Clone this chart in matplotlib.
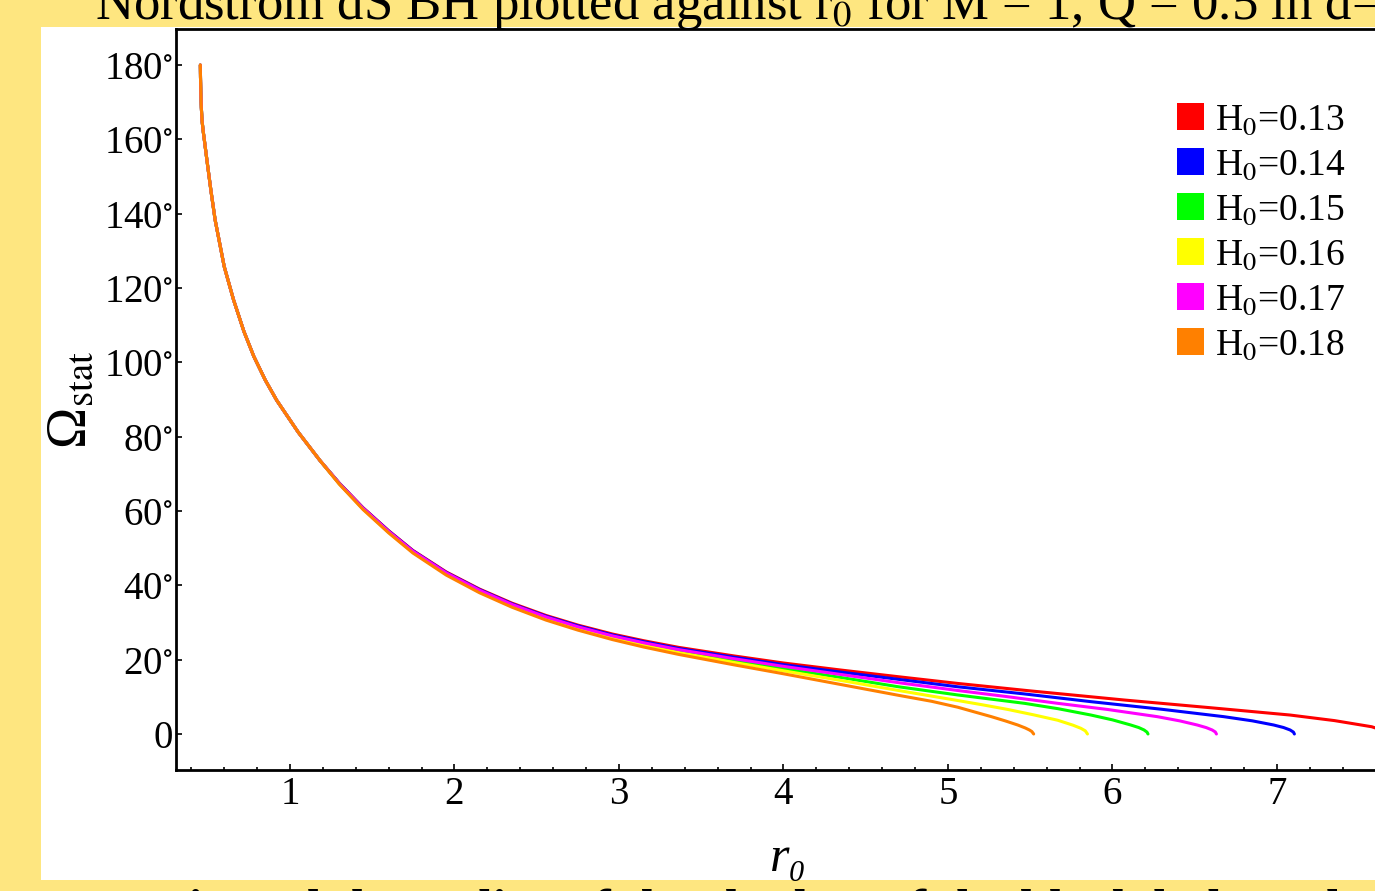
import matplotlib
matplotlib.use("Agg")
import matplotlib.pyplot as plt
from matplotlib.patches import Patch, Rectangle

plt.rcParams['font.family'] = ['Liberation Serif', 'DejaVu Serif']
plt.rcParams['mathtext.fontset'] = 'stix'

# shared steep part, all curves sit on top of each other here
r_head = [0.455, 0.456, 0.458, 0.461, 0.465, 0.472, 0.48, 0.495, 0.52, 0.545, 0.6, 0.657,
          0.72, 0.78, 0.85, 0.919, 1.05, 1.182]
om_head = [180, 176.5, 172.5, 168.6, 165.2, 162.3, 159.6, 154.4, 146.0, 138.3, 125.8, 116.8,
           108.3, 101.6, 95.2, 89.8, 81.2, 73.6]

r_mid = [1.3, 1.444, 1.6, 1.747, 1.95, 2.152, 2.35, 2.556, 2.75, 2.96, 3.15, 3.364, 3.7, 4.0,
         4.35, 4.7, 5.06]

om_013 = [67.5, 60.9, 54.7, 49.4, 43.6, 39.0, 35.2, 31.9, 29.3, 26.9, 25.1, 23.3, 21.0, 19.1,
          17.2, 15.4, 13.6]
r_end_013 = [5.5, 6.07, 6.6, 7.08, 7.35, 7.576, 7.62, 7.65, 7.66]
om_end_013 = [11.6, 9.15, 7.05, 5.1, 3.6, 1.95, 1.31, 0.65, 0]

om_014 = [67.45, 60.8, 54.6, 49.3, 43.45, 38.85, 35.0, 31.7, 29.1, 26.65, 24.85, 23.0, 20.65,
          18.65, 16.65, 14.7, 12.7]
r_end_014 = [5.46, 5.869, 6.3, 6.677, 6.85, 6.98, 7.04, 7.08, 7.1, 7.106]
om_end_014 = [10.8, 8.7, 6.65, 4.66, 3.54, 2.42, 1.74, 1.08, 0.51, 0]

om_015 = [67.35, 60.65, 54.4, 49.05, 43.2, 38.5, 34.65, 31.3, 28.6, 26.1, 24.2, 22.3, 19.8,
          17.6, 15.2, 12.7, 10.5]
r_end_015 = [5.465, 5.67, 5.869, 6.0, 6.111, 6.16, 6.192, 6.21, 6.216]
om_end_015 = [8.25, 6.8, 5.1, 3.8, 2.42, 1.73, 1.08, 0.5, 0]

om_016 = [67.3, 60.55, 54.25, 48.9, 43.0, 38.3, 34.4, 31.0, 28.3, 25.8, 23.85, 21.9, 19.25,
          17.0, 14.4, 11.7, 9.0]
r_end_016 = [5.21, 5.364, 5.52, 5.667, 5.76, 5.808, 5.835, 5.848]
om_end_016 = [7.85, 6.6, 5.16, 3.7, 2.37, 1.53, 0.84, 0]

om_017 = [67.4, 60.75, 54.5, 49.2, 43.35, 38.7, 34.85, 31.5, 28.85, 26.4, 24.55, 22.7, 20.25,
          18.2, 16.0, 13.8, 11.7]
r_end_017 = [5.36, 5.667, 5.97, 6.273, 6.41, 6.515, 6.57, 6.606, 6.625, 6.632]
om_end_017 = [10.05, 8.25, 6.6, 4.66, 3.52, 2.42, 1.72, 1.08, 0.55, 0]

om_018 = [67.2, 60.4, 54.1, 48.7, 42.75, 38.0, 34.1, 30.65, 27.95, 25.4, 23.4, 21.4, 18.6,
          16.2, 13.3, 10.4]
r_end_018 = [4.9, 5.06, 5.16, 5.264, 5.35, 5.424, 5.47, 5.495, 5.51, 5.521]
om_end_018 = [8.8, 7.2, 5.95, 4.66, 3.5, 2.42, 1.62, 1.08, 0.66, 0]

labels = ['H$_0$=0.13', 'H$_0$=0.14', 'H$_0$=0.15', 'H$_0$=0.16', 'H$_0$=0.17', 'H$_0$=0.18']
colors = ['#ff0000', '#0000ff', '#00ff00', '#ffff00', '#ff00ff', '#ff8000']

curves = [
    (r_head + r_mid + r_end_013, om_head + om_013 + om_end_013),
    (r_head + r_mid + r_end_014, om_head + om_014 + om_end_014),
    (r_head + r_mid + r_end_015, om_head + om_015 + om_end_015),
    (r_head + r_mid + r_end_016, om_head + om_016 + om_end_016),
    (r_head + r_mid + r_end_017, om_head + om_017 + om_end_017),
    (r_head + r_mid[:-1] + r_end_018, om_head + om_018 + om_end_018),
]

yticks = [0, 20, 40, 60, 80, 100, 120, 140, 160, 180]
ytick_labels = ['0'] + [str(v) + r'$^{\circ}$' for v in yticks[1:]]
xticks = [1, 2, 3, 4, 5, 6, 7]

W, H = 1375, 891
fig = plt.figure(figsize=(W / 100, H / 100), dpi=100, facecolor='#fee680')
fig.add_artist(Rectangle((41 / W, 1 - 880 / H), (W - 41) / W, (880 - 27) / H,
                         transform=fig.transFigure, facecolor='white', edgecolor='none', zorder=-5))

ax = fig.add_axes([176 / W, 1 - 770 / H, (1400 - 176) / W, (770 - 29) / H])
for (r, om), c in zip(curves, colors):
    ax.plot(r, om, color=c, lw=2.2, solid_capstyle='round')

ax.set_xlim(0.307, 7.748)
ax.set_ylim(-9.69, 189.7)
ax.set_xticks(xticks)
ax.set_xticks([v / 5 for v in range(2, 39)], minor=True)
ax.set_yticks(yticks)
ax.set_yticklabels(ytick_labels)
ax.tick_params(axis='both', which='both', direction='in', labelsize=28, width=1.2)
ax.tick_params(axis='both', which='major', length=4)
ax.tick_params(axis='x', which='minor', length=2.5)
ax.tick_params(axis='x', pad=4)
ax.tick_params(axis='y', pad=2)
for s in ['left', 'bottom', 'top']:
    ax.spines[s].set_linewidth(2)
ax.spines['right'].set_visible(False)

ax.set_ylabel(r'Ω$_{\mathrm{stat}}$', fontsize=40)
ax.yaxis.set_label_coords(-0.064, 0.5)
ax.set_xlabel('r\u2080', fontsize=36, fontstyle='italic')
ax.xaxis.set_label_coords(0.5, -0.088)

handles = [Patch(facecolor=c, edgecolor='none') for c in colors]
ax.legend(handles, labels, loc='upper left', bbox_to_anchor=(1177 / W, 1 - 103 / H),
          bbox_transform=fig.transFigure, frameon=False, fontsize=27, borderpad=0,
          borderaxespad=0, handlelength=0.72, handleheight=0.72, handletextpad=0.3,
          labelspacing=0.28)

fig.text(95 / W, 1 - 19 / H, 'Nordström dS BH plotted against r$_0$ for M = 1, Q = 0.5 in d=4',
         fontsize=38, va='baseline', ha='left')
fig.text(100 / W, 1 - 924 / H, 'Static and the radius of the shadow of the black hole and C',
         fontsize=37, fontweight='bold', va='baseline', ha='left')

fig.savefig('out.png', dpi=100, facecolor=fig.get_facecolor())
